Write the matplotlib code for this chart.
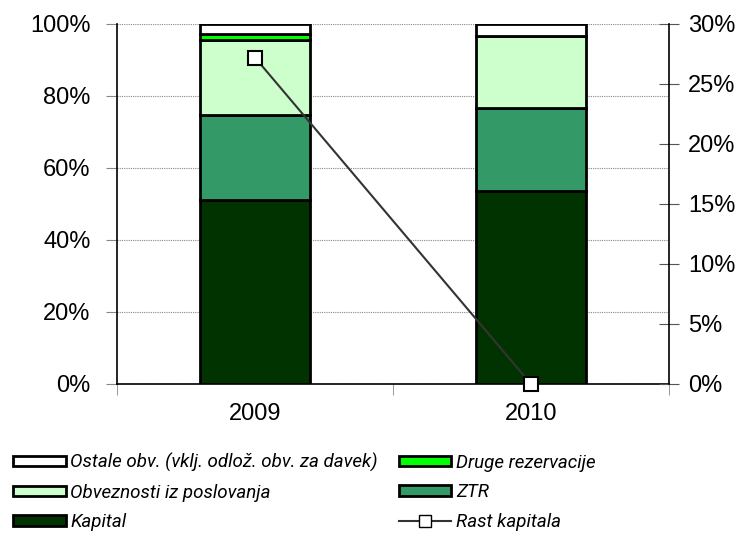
import numpy as np
import matplotlib.pyplot as plt
from matplotlib.patches import Patch
from matplotlib.lines import Line2D
from matplotlib.ticker import PercentFormatter

# podatki
years = ['2009', '2010']
kapital = [51.1, 53.7]
ztr = [23.6, 22.9]
obveznosti = [20.9, 20.2]
druge_rez = [1.7, 0.0]
ostale = [2.7, 3.2]
rast_kapitala = [27.2, 0.0]

plt.rcParams['font.family'] = ['Liberation Sans', 'DejaVu Sans']

fig = plt.figure(figsize=(7.46, 5.33), dpi=100)
ax = fig.add_axes([117 / 746, 1 - 384 / 533, 552 / 746, 360 / 533])

x = np.arange(len(years))
w = 0.4
series = [
    (kapital, '#003300', 'Kapital'),
    (ztr, '#339966', 'ZTR'),
    (obveznosti, '#CCFFCC', 'Obveznosti iz poslovanja'),
    (druge_rez, '#00FF00', 'Druge rezervacije'),
    (ostale, '#FFFFFF', 'Ostale obv. (vklj. odlož. obv. za davek)'),
]
bottom = np.zeros(len(years))
for vals, col, lab in series:
    vals = np.array(vals)
    ax.bar(x, vals, w, bottom=bottom, color=col, edgecolor='black', linewidth=2, zorder=3)
    bottom += vals

ax.set_xlim(-0.5, 1.5)
ax.set_ylim(0, 100)
ax.set_yticks(np.arange(0, 101, 20))
ax.yaxis.set_major_formatter(PercentFormatter(decimals=0))
ax.grid(axis='y', color='#888888', linestyle=(0, (1, 1)), linewidth=0.8, zorder=0)
ax.set_xticks(x)
ax.set_xticklabels(years)
ax.set_xticks([-0.5, 0.5, 1.5], minor=True)
ax.tick_params(axis='x', which='major', length=0, pad=14, labelsize=17)
ax.tick_params(axis='x', which='minor', length=8, color='#888888', direction='out')
ax.tick_params(axis='y', length=8, color='#888888', direction='out', labelsize=17, pad=11)
ax.spines['top'].set_visible(False)
ax.spines['right'].set_visible(False)
ax.spines['left'].set_linewidth(1.2)
ax.spines['bottom'].set_linewidth(1.2)

ax2 = ax.twinx()
ax2.set_ylim(0, 30)
ax2.set_yticks(np.arange(0, 31, 5))
ax2.yaxis.set_major_formatter(PercentFormatter(decimals=0))
ax2.tick_params(axis='y', length=15, color='#555555', direction='inout', labelsize=17, pad=6)
for s in ['top', 'left', 'bottom']:
    ax2.spines[s].set_visible(False)
ax2.spines['right'].set_linewidth(1.2)
ax2.plot(x, rast_kapitala, color='#333333', linewidth=1.5, marker='s', markersize=10,
         markerfacecolor='white', markeredgecolor='black', markeredgewidth=1.5, zorder=5,
         clip_on=False)

handles = [
    Patch(facecolor='#FFFFFF', edgecolor='black', linewidth=2),
    Patch(facecolor='#CCFFCC', edgecolor='black', linewidth=2),
    Patch(facecolor='#003300', edgecolor='black', linewidth=2),
    Patch(facecolor='#00FF00', edgecolor='black', linewidth=2),
    Patch(facecolor='#339966', edgecolor='black', linewidth=2),
    Line2D([], [], color='#333333', linewidth=1.5, marker='s', markersize=9,
           markerfacecolor='white', markeredgecolor='black'),
]
labels = ['Ostale obv. (vklj. odlož. obv. za davek)', 'Obveznosti iz poslovanja', 'Kapital',
          'Druge rezervacije', 'ZTR', 'Rast kapitala']
fig.legend(handles, labels, ncol=2, loc='upper left', bbox_to_anchor=(0.0, 0.175),
           frameon=False, prop={'family': ['Roboto', 'DejaVu Sans'], 'style': 'italic', 'size': 13.5},
           handlelength=2.8, handleheight=0.5, handletextpad=0.25, columnspacing=1.1,
           labelspacing=0.62, borderaxespad=0.3)

fig.savefig('out.png', dpi=100)
